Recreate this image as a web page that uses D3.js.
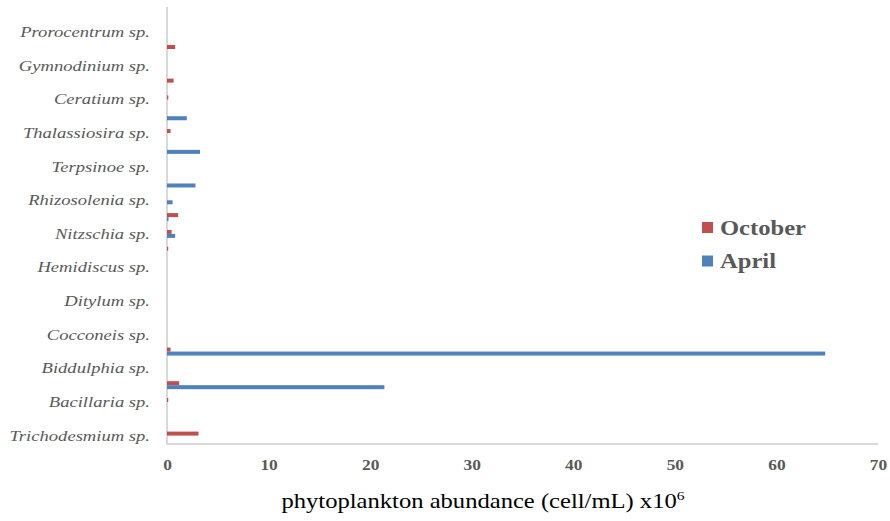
<!DOCTYPE html>
<html>
<head>
<meta charset="utf-8">
<script src="https://cdn.jsdelivr.net/npm/d3@7"></script>
<style>
  html, body { margin: 0; padding: 0; background: #fff; }
  svg { display: block; }
</style>
</head>
<body>
<svg id="chart" width="890" height="521"></svg>
<script>
// Species in plotting order, bottom to top. Only every second name is labelled
// on the axis; unlabelled rows keep an empty name.
const categories = [
  "Trichodesmium sp.", "", "Bacillaria sp.", "", "Biddulphia sp.", "",
  "Cocconeis sp.", "", "Ditylum sp.", "", "Hemidiscus sp.", "",
  "Nitzschia sp.", "", "Rhizosolenia sp.", "", "Terpsinoe sp.", "",
  "Thalassiosira sp.", "", "Ceratium sp.", "", "Gymnodinium sp.", "",
  "Prorocentrum sp.", ""
];

// Abundance, cell/mL x10^6
const october = [
  3.1, 0, 0.12, 1.2, 0, 0.35,
  0, 0, 0, 0, 0, 0.12,
  0.45, 1.1, 0, 0, 0, 0,
  0.35, 0, 0.13, 0.65, 0, 0.8,
  0, 0
];
const april = [
  0, 0, 0, 21.4, 0, 64.8,
  0, 0, 0, 0, 0, 0,
  0.8, 0.15, 0.55, 2.8, 0, 3.25,
  0, 1.95, 0, 0, 0, 0,
  0, 0
];

const seriesNames = ["October", "April"];
const seriesColors = ["#C0504D", "#4F81BD"];
const xTicks = [0, 10, 20, 30, 40, 50, 60, 70];
const xTitle = "phytoplankton abundance (cell/mL) x10";

const SERIF = "'Liberation Serif', 'Times New Roman', Times, serif";
const STRETCH = "scale(1.2,1)";   // text is set slightly wide

const svg = d3.select("#chart");
const plot = { left: 167, right: 878, top: 7, bottom: 444 };

const x = d3.scaleLinear().domain([0, 70]).range([plot.left, plot.right]);
const idx = d3.range(categories.length);
// bottom row first
const y = d3.scaleBand().domain(idx).range([plot.bottom, plot.top]);
const barH = 4;

// axis lines
svg.append("line")
  .attr("x1", plot.left).attr("x2", plot.left)
  .attr("y1", plot.top).attr("y2", plot.bottom)
  .attr("stroke", "#D9D9D9").attr("stroke-width", 2);
svg.append("line")
  .attr("x1", plot.left - 1).attr("x2", plot.right)
  .attr("y1", plot.bottom).attr("y2", plot.bottom)
  .attr("stroke", "#D9D9D9").attr("stroke-width", 2);

// bars: October above April within each row
const series = [october, april];
series.forEach((vals, s) => {
  svg.append("g").selectAll("rect")
    .data(idx.filter(i => vals[i] > 0))
    .join("rect")
    .attr("x", x(0))
    .attr("y", i => y(i) + y.bandwidth() / 2 - barH + s * barH)
    .attr("width", i => x(vals[i]) - x(0))
    .attr("height", barH)
    .attr("fill", seriesColors[s]);
});

// x tick labels
const xAxis = d3.axisBottom(x).tickValues(xTicks).tickSize(0).tickPadding(0);
const gx = svg.append("g").attr("transform", `translate(0,${plot.bottom + 16})`).call(xAxis);
gx.select(".domain").remove();
gx.selectAll("text")
  .attr("dy", "0.71em")
  .attr("transform", STRETCH)
  .attr("font-family", SERIF)
  .attr("font-weight", "bold")
  .attr("font-size", 14.5)
  .attr("fill", "#595959");

// y labels (every second row)
const yAxis = d3.axisLeft(y)
  .tickValues(idx.filter(i => i % 2 === 0))
  .tickFormat(i => categories[i])
  .tickSize(0).tickPadding(0);
const gy = svg.append("g").attr("transform", `translate(${plot.left - 17},0)`).call(yAxis);
gy.select(".domain").remove();
gy.selectAll("text")
  .attr("transform", STRETCH)
  .attr("font-family", SERIF)
  .attr("font-style", "italic")
  .attr("font-size", 15.5)
  .attr("fill", "#595959");

// x axis title
const t = svg.append("g").attr("transform", "translate(483,508)")
  .append("text")
  .attr("transform", STRETCH)
  .attr("text-anchor", "middle")
  .attr("font-family", SERIF)
  .attr("font-size", 20.5)
  .attr("fill", "#000");
t.append("tspan").text(xTitle);
t.append("tspan").attr("dy", -8).attr("font-size", 13).text("6");

// legend
const leg = svg.append("g").attr("transform", "translate(702,227.5)");
seriesNames.forEach((name, s) => {
  const g = leg.append("g").attr("transform", `translate(0,${s * 33.5})`);
  g.append("rect").attr("x", 0).attr("y", -5.5).attr("width", 11).attr("height", 11)
    .attr("fill", seriesColors[s]);
  g.append("g").attr("transform", "translate(18,0)")
    .append("text")
    .attr("transform", STRETCH)
    .attr("dy", "0.35em")
    .attr("font-family", SERIF)
    .attr("font-weight", "bold")
    .attr("font-size", 20.5)
    .attr("fill", "#595959")
    .text(name);
});
</script>
</body>
</html>
